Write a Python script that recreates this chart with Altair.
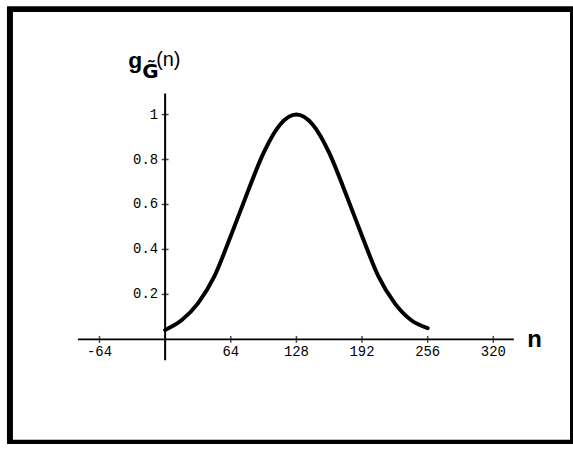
import altair as alt
import pandas as pd

# curve samples
n_vals = [0, 16, 32, 48, 64, 80, 96, 112, 128, 144, 160, 176, 192, 208, 224, 240, 256]
g_vals = [0.042, 0.085, 0.16, 0.28, 0.46, 0.65, 0.83, 0.955, 1.0, 0.955, 0.83, 0.65, 0.46, 0.28, 0.16, 0.085, 0.05]

x_ticks = [-64, 64, 128, 192, 256, 320]
x_tick_labels = ["-64", "64", "128", "192", "256", "320"]
y_ticks = [0.2, 0.4, 0.6, 0.8, 1.0]
y_tick_labels = ["0.2", "0.4", "0.6", "0.8", "1"]

x_axis_span = [-85, 340]
y_axis_span = [-0.093, 1.094]

X_DOMAIN = [-151.3, 397.7]
Y_DOMAIN = [-0.4602, 1.469]

xs = alt.Scale(domain=X_DOMAIN, nice=False, zero=False)
ys = alt.Scale(domain=Y_DOMAIN, nice=False, zero=False)

curve = pd.DataFrame({"n": n_vals, "g": g_vals})
xt = pd.DataFrame({"n": x_ticks, "lab": x_tick_labels, "g": [0] * len(x_ticks)})
yt = pd.DataFrame({"g": y_ticks, "lab": y_tick_labels, "n": [0] * len(y_ticks)})
xaxis = pd.DataFrame({"n": [x_axis_span[0]], "n2": [x_axis_span[1]], "g": [0]})
yaxis = pd.DataFrame({"g": [y_axis_span[0]], "g2": [y_axis_span[1]], "n": [0]})

X = lambda f: alt.X(f, type="quantitative", scale=xs, axis=None)
Y = lambda f: alt.Y(f, type="quantitative", scale=ys, axis=None)

x_rule = alt.Chart(xaxis).mark_rule(color="black", strokeWidth=2).encode(
    x=X("n"), x2="n2", y=Y("g"))
y_rule = alt.Chart(yaxis).mark_rule(color="black", strokeWidth=2).encode(
    y=Y("g"), y2="g2", x=X("n"))

x_tickm = alt.Chart(xt).mark_tick(orient="vertical", color="black", size=7, thickness=1.5).encode(
    x=X("n"), y=Y("g"))
y_tickm = alt.Chart(yt).mark_tick(orient="horizontal", color="black", size=7, thickness=1.5).encode(
    x=X("n"), y=Y("g"))

x_lab = alt.Chart(xt).mark_text(font="Liberation Mono", fontSize=14, color="black",
                                align="center", baseline="middle", dy=13).encode(
    x=X("n"), y=Y("g"), text="lab:N")
y_lab = alt.Chart(yt).mark_text(font="Liberation Mono", fontSize=14, color="black",
                                align="right", baseline="middle", dx=-7).encode(
    x=X("n"), y=Y("g"), text="lab:N")

line = alt.Chart(curve).mark_line(color="black", strokeWidth=4, interpolate="monotone",
                                  strokeCap="round").encode(x=X("n"), y=Y("g"))

anno = pd.DataFrame({"t": [0]})
def txt(s, x, y, size, weight="bold", font="Liberation Sans"):
    return alt.Chart(anno).mark_text(text=s, font=font, fontSize=size, fontWeight=weight,
                                     color="black", align="left", baseline="alphabetic").encode(
        x=alt.value(x), y=alt.value(y))

title = (txt("g", 119, 59, 23) + txt("G\u0303", 133, 69, 20, font="DejaVu Sans")
         + txt("(n)", 147, 57, 20, weight="normal") + txt("n", 520, 340, 24))

chart = alt.layer(x_rule, y_rule, x_tickm, y_tickm, x_lab, y_lab, line, title).properties(
    width=566, height=436,
    autosize=alt.AutoSizeParams(type="none"),
    padding={"left": 10, "top": 8, "right": 0, "bottom": 0},
).configure_view(stroke="black", strokeWidth=6)

chart.save("out.html", embed_options={"renderer": "svg", "actions": False})
